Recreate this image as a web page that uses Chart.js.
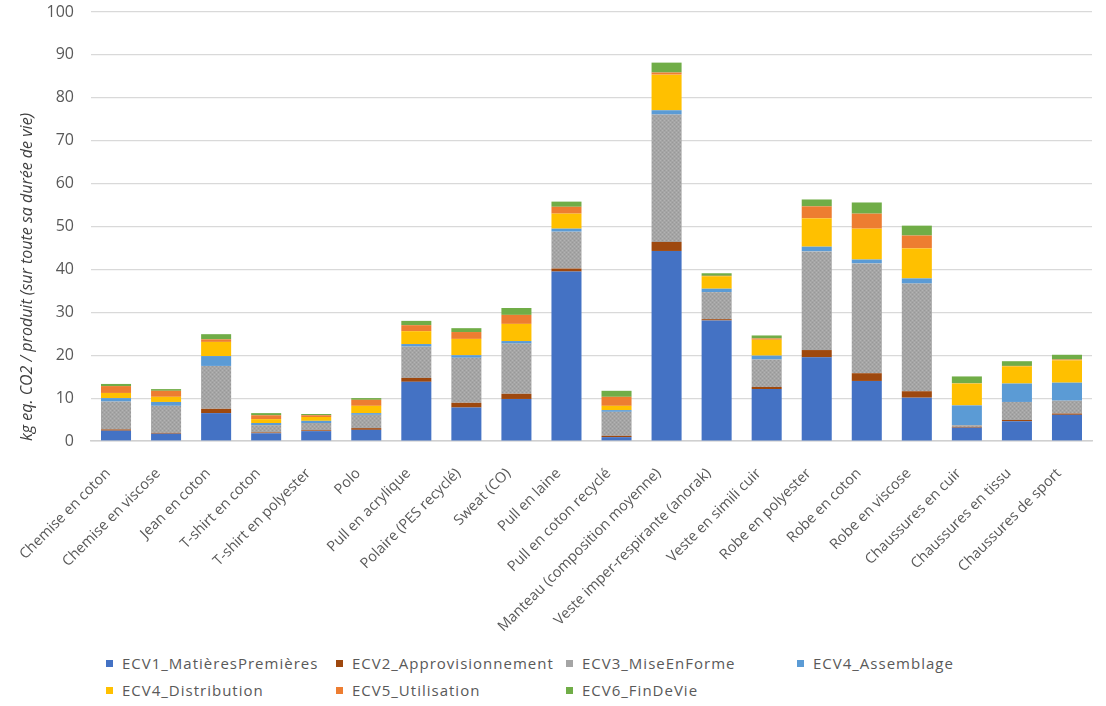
<!DOCTYPE html>
<html lang="fr">
<head>
<meta charset="UTF-8">
<title>Empreinte carbone des produits textiles</title>
<script src="https://cdn.jsdelivr.net/npm/chart.js"></script>
<style>
  body { margin: 0; background: #fff; font-family: 'Open Sans', sans-serif; }
  #wrap { position: relative; width: 1106px; height: 706px; }
  #box { position: absolute; left: 0; top: 0; width: 1106px; height: 650px; }
  .leg { position: absolute; font-size: 15px; letter-spacing: 1px; color: #595959; line-height: 20px; white-space: nowrap; }
  .leg i { display: inline-block; width: 7px; height: 7px; margin-right: 9px; vertical-align: middle; position: relative; top: -1px; }
</style>
</head>
<body>
<div id="wrap">
  <div id="box"><canvas id="c"></canvas></div>
  <div id="legend"></div>
</div>
<script>
// produits (axe x)
const produits = [
  "Chemise en coton", "Chemise en viscose", "Jean en coton", "T-shirt en coton",
  "T-shirt en polyester", "Polo", "Pull en acrylique", "Polaire (PES recyclé)",
  "Sweat (CO)", "Pull en laine", "Pull en coton recyclé", "Manteau (composition moyenne)",
  "Veste imper-respirante (anorak)", "Veste en simili cuir", "Robe en polyester",
  "Robe en coton", "Robe en viscose", "Chaussures en cuir", "Chaussures en tissu",
  "Chaussures de sport"
];

// valeurs (kg eq. CO2)
const ecv1 = [2.4, 1.7, 6.5, 1.8, 2.3, 2.6, 13.8, 7.8, 9.8, 39.5, 0.9, 44.3, 28.1, 12.1, 19.5, 14.0, 10.1, 3.1, 4.6, 6.1];
const ecv2 = [0.3, 0.2, 1.0, 0.2, 0.2, 0.4, 0.9, 1.1, 1.2, 0.7, 0.3, 2.1, 0.3, 0.5, 1.7, 1.8, 1.5, 0.2, 0.3, 0.3];
const ecv3 = [6.5, 6.3, 10.0, 1.7, 1.7, 3.1, 7.3, 10.5, 11.7, 8.6, 5.6, 29.7, 6.3, 6.4, 23.0, 25.6, 25.1, 0.4, 4.2, 3.0];
const ecv4a = [0.8, 0.9, 2.3, 0.5, 0.5, 0.4, 0.6, 0.6, 0.6, 0.7, 0.4, 1.0, 0.8, 0.9, 1.1, 0.9, 1.2, 4.6, 4.3, 4.2];
const ecv4d = [1.2, 1.2, 3.3, 0.9, 0.9, 1.7, 3.0, 3.8, 4.0, 3.5, 1.0, 8.3, 2.9, 3.7, 6.6, 7.2, 7.0, 5.1, 4.0, 5.2];
const ecv5 = [1.6, 1.4, 0.6, 0.9, 0.4, 1.4, 1.4, 1.6, 2.1, 1.6, 2.1, 0.5, 0.1, 0.3, 2.8, 3.5, 3.0, 0.05, 0.1, 0.2];
const ecv6 = [0.5, 0.4, 1.2, 0.5, 0.3, 0.4, 1.0, 0.9, 1.6, 1.2, 1.4, 2.3, 0.6, 0.7, 1.6, 2.6, 2.3, 1.6, 1.1, 1.1];

const series = ["ECV1_MatièresPremières", "ECV2_Approvisionnement", "ECV3_MiseEnForme",
  "ECV4_Assemblage", "ECV4_Distribution", "ECV5_Utilisation", "ECV6_FinDeVie"];
const yTicks = [0, 10, 20, 30, 40, 50, 60, 70, 80, 90, 100];

const couleurs = ["#4472c4", "#9e480e", "#a5a5a5", "#5b9bd5", "#ffc000", "#ed7d31", "#70ad47"];

const ctx = document.getElementById("c").getContext("2d");

// motif pointillé pour la série grise
function trame() {
  const t = document.createElement("canvas");
  t.width = 4; t.height = 4;
  const g = t.getContext("2d");
  g.fillStyle = "#a5a5a5"; g.fillRect(0, 0, 4, 4);
  g.fillStyle = "#b3b3b3"; g.fillRect(0, 0, 1, 1); g.fillRect(2, 2, 1, 1);
  g.fillStyle = "#989898"; g.fillRect(2, 0, 1, 1); g.fillRect(0, 2, 1, 1);
  return ctx.createPattern(t, "repeat");
}

const valeurs = [ecv1, ecv2, ecv3, ecv4a, ecv4d, ecv5, ecv6];
const datasets = series.map((nom, i) => ({
  label: nom,
  data: valeurs[i],
  backgroundColor: i === 2 ? trame() : couleurs[i],
  borderWidth: 0,
  categoryPercentage: 1,
  barPercentage: 0.6
}));

Chart.defaults.font.family = "'Open Sans', sans-serif";
Chart.defaults.color = "#595959";

new Chart(ctx, {
  type: "bar",
  data: { labels: produits, datasets: datasets },
  options: {
    responsive: true,
    maintainAspectRatio: false,
    animation: false,
    layout: { padding: { top: 12, right: 14, left: 0, bottom: 0 } },
    plugins: { legend: { display: false }, tooltip: { enabled: false } },
    scales: {
      x: {
        stacked: true,
        grid: { display: false },
        border: { color: "#d0d0d0", width: 1.5 },
        ticks: {
          autoSkip: false, minRotation: 45, maxRotation: 45,
          padding: 16, labelOffset: -8,
          font: { size: 14.5 }, color: "#595959"
        },
        afterFit: s => { s.height = 209; }
      },
      y: {
        stacked: true,
        min: 0, max: 100,
        afterBuildTicks: s => { s.ticks = yTicks.map(v => ({ value: v })); },
        grid: { color: "#d9d9d9", lineWidth: 1.2, drawTicks: false },
        border: { display: false },
        ticks: { padding: 17, font: { size: 16 }, color: "#595959" },
        title: {
          display: true,
          text: "kg eq. CO2 / produit (sur toute sa durée de vie)",
          align: "start",
          color: "#404040",
          font: { size: 16, style: "italic" },
          padding: { top: 18, bottom: 0 }
        },
        afterFit: s => { s.width = 91; s.paddingTop = 0; s.paddingBottom = 0; }
      }
    }
  }
});

// légende en grille comme l'original
const cols = [106, 336, 566, 797];
const rows = [653, 680];
const leg = document.getElementById("legend");
series.forEach((nom, i) => {
  const d = document.createElement("div");
  d.className = "leg";
  d.style.left = cols[i % 4] + "px";
  d.style.top = rows[Math.floor(i / 4)] + "px";
  const b = document.createElement("i");
  b.style.background = couleurs[i];
  d.appendChild(b);
  d.appendChild(document.createTextNode(nom));
  leg.appendChild(d);
});
</script>
</body>
</html>
